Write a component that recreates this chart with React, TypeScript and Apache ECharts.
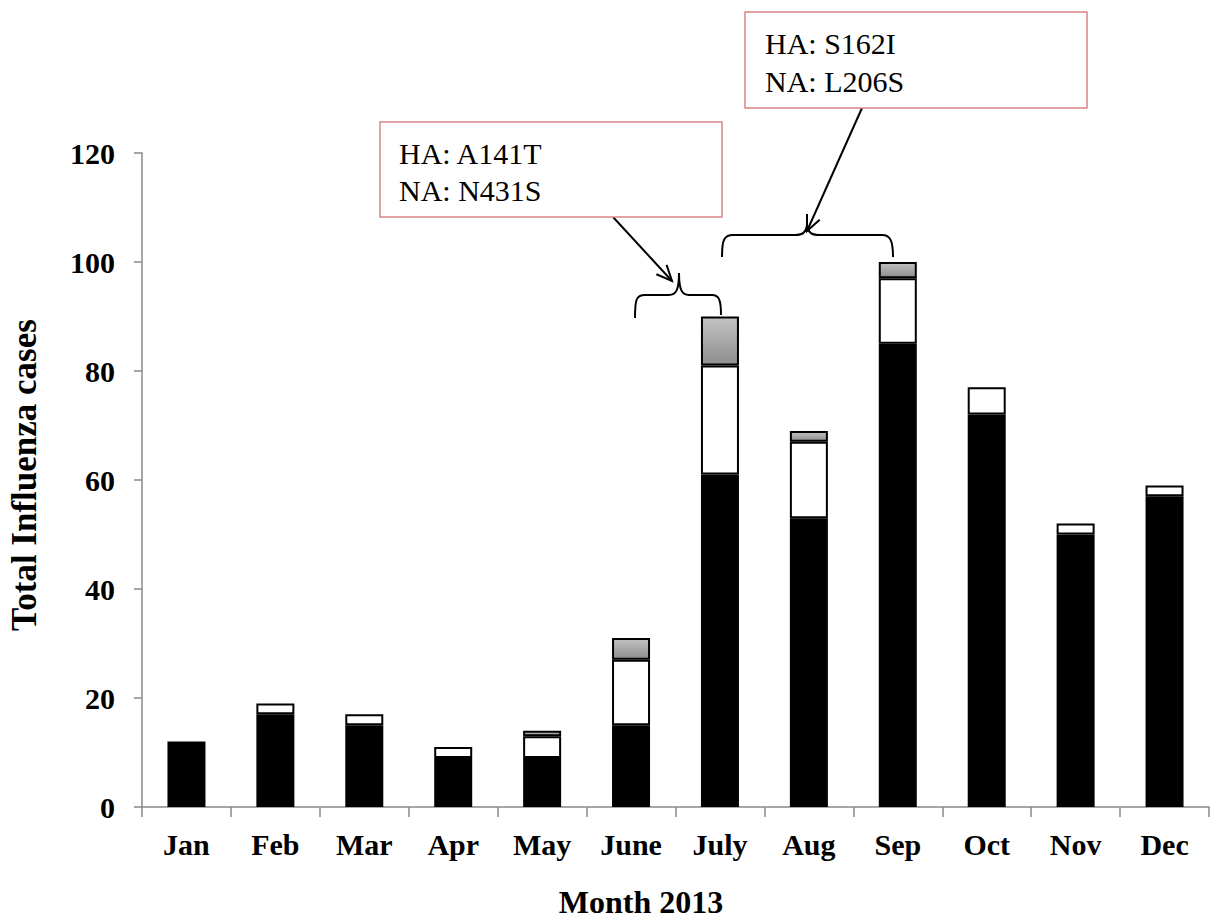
import React, { useEffect, useRef } from "react";
import * as echarts from "echarts";

const months = ["Jan", "Feb", "Mar", "Apr", "May", "June", "July", "Aug", "Sep", "Oct", "Nov", "Dec"];
const blackValues = [12, 17, 15, 9, 9, 15, 61, 53, 85, 72, 50, 57];
const whiteValues = [0, 2, 2, 2, 4, 12, 20, 14, 12, 5, 2, 2];
const grayValues = [0, 0, 0, 0, 1, 4, 9, 2, 3, 0, 0, 0];
const yTicks = { min: 0, max: 120, interval: 20 };
const box1Lines = ["HA: A141T", "NA: N431S"];
const box2Lines = ["HA: S162I", "NA: L206S"];

const SERIF = "Liberation Serif, Times New Roman, Times, serif";

const brace1 =
  "M635,318 C635,300 636,295 645,295 L669,295 C676,295 679,290 679,273 C679,290 682,295 689,295 L712,295 C719,295 721,300 721,315";
const brace2 =
  "M722,257 C722,240 724,235 733,235 L795,235 C803,235 806,232 807,225 C808,232 811,235 819,235 L882,235 C890,235 893,240 893,257";

let registered = false;
function registerShapes() {
  if (registered) return;
  echarts.graphic.registerShape("brace1", echarts.graphic.extendPath(brace1, {}));
  echarts.graphic.registerShape("brace2", echarts.graphic.extendPath(brace2, {}));
  registered = true;
}

function arrow(x1: number, y1: number, x2: number, y2: number) {
  const ang = Math.atan2(y2 - y1, x2 - x1);
  const len = 17;
  const spread = 0.42;
  const a = [x2 - len * Math.cos(ang - spread), y2 - len * Math.sin(ang - spread)];
  const b = [x2 - len * Math.cos(ang + spread), y2 - len * Math.sin(ang + spread)];
  return [
    { type: "line", shape: { x1, y1, x2, y2 }, style: { stroke: "#000", lineWidth: 2 } },
    { type: "polyline", shape: { points: [a, [x2, y2], b] }, style: { stroke: "#000", lineWidth: 2, fill: null } },
  ];
}

function box(x: number, y: number, w: number, h: number, lines: string[], tx: number, ty: number[]) {
  return [
    { type: "rect", shape: { x, y, width: w, height: h }, style: { fill: "#fff", stroke: "#d98585", lineWidth: 1.5 } },
    ...lines.map((t, i) => ({
      type: "text",
      x: tx,
      y: ty[i],
      style: {
        text: t,
        fontFamily: "Times New Roman, Liberation Serif, serif",
        fontSize: 30,
        fill: "#000",
        align: "left",
        verticalAlign: "middle",
      },
    })),
  ];
}

export default function App() {
  const ref = useRef<HTMLDivElement>(null);
  useEffect(() => {
    registerShapes();
    const chart = echarts.init(ref.current!, null, { renderer: "svg" });
    const grayFill = new echarts.graphic.LinearGradient(0, 0, 0, 1, [
      { offset: 0, color: "#c2c2c2" },
      { offset: 1, color: "#8e8e8e" },
    ]);
    const nz = (arr: number[]) => arr.map((v) => (v === 0 ? null : v));
    const barCommon = {
      type: "bar",
      stack: "total",
      barWidth: 38,
      itemStyle: { borderColor: "#000", borderWidth: 2 },
    };
    chart.setOption({
      animation: false,
      backgroundColor: "#fff",
      grid: { left: 142, right: 9, top: 153, bottom: 112, outerBoundsMode: "none" },
      xAxis: {
        type: "category",
        data: months,
        axisLine: { lineStyle: { color: "#888", width: 1.5 } },
        axisTick: { show: true, length: 10, lineStyle: { color: "#888", width: 1.5 } },
        axisLabel: { color: "#000", fontFamily: SERIF, fontWeight: "bold", fontSize: 30, margin: 22, interval: 0 },
      },
      yAxis: {
        type: "value",
        min: yTicks.min,
        max: yTicks.max,
        interval: yTicks.interval,
        splitLine: { show: false },
        axisLine: { show: true, lineStyle: { color: "#888", width: 1.5 } },
        axisTick: { show: true, length: 8, lineStyle: { color: "#888", width: 1.5 } },
        axisLabel: { color: "#000", fontFamily: SERIF, fontWeight: "bold", fontSize: 30, margin: 27 },
      },
      series: [
        { ...barCommon, name: "Black", data: nz(blackValues), itemStyle: { ...barCommon.itemStyle, color: "#000" } },
        { ...barCommon, name: "White", data: nz(whiteValues), itemStyle: { ...barCommon.itemStyle, color: "#fff" } },
        { ...barCommon, name: "Gray", data: nz(grayValues), itemStyle: { ...barCommon.itemStyle, color: grayFill } },
      ],
      graphic: [
        {
          type: "text",
          x: 24,
          y: 475,
          rotation: Math.PI / 2,
          style: {
            text: "Total Influenza cases",
            fontFamily: SERIF,
            fontSize: 35,
            fontWeight: "bold",
            fill: "#000",
            align: "center",
            verticalAlign: "middle",
          },
        },
        {
          type: "text",
          x: 641,
          y: 902,
          style: {
            text: "Month 2013",
            fontFamily: SERIF,
            fontSize: 32,
            fontWeight: "bold",
            fill: "#000",
            align: "center",
            verticalAlign: "middle",
          },
        },
        { type: "brace1", x: 0, y: 0, style: { stroke: "#000", lineWidth: 2, fill: null } },
        { type: "brace2", x: 0, y: 0, style: { stroke: "#000", lineWidth: 2, fill: null } },
        ...arrow(613, 217, 672, 281),
        ...arrow(862, 108, 807, 231),
        ...box(380, 122, 342, 95, box1Lines, 399, [153, 190]),
        ...box(745, 12, 342, 96, box2Lines, 765, [43, 81]),
      ],
    });
    return () => chart.dispose();
  }, []);
  return <div ref={ref} style={{ position: "fixed", left: 0, top: 0, width: 1218, height: 919 }} />;
}
